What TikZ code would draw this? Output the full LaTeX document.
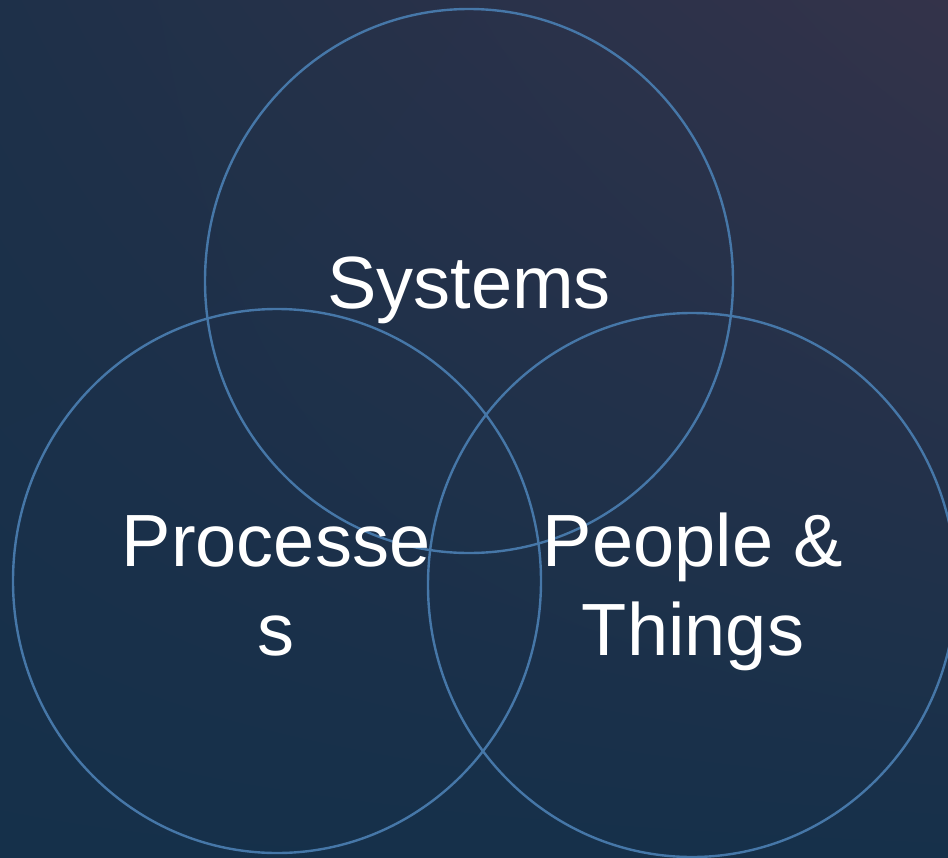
\documentclass[tikz,border=0pt]{standalone}
\usepackage{fontspec}
\setmainfont{Liberation Sans}
\usetikzlibrary{shadings,shapes.geometric}
\definecolor{bgUL}{HTML}{1E3049}
\definecolor{bgUR}{HTML}{34334A}
\definecolor{bgLL}{HTML}{15304A}
\definecolor{bgLR}{HTML}{16304A}
\definecolor{ringc}{HTML}{4677A8}
\begin{document}
\begin{tikzpicture}[x=1pt,y=-1pt,
  ring/.style={draw=ringc, line width=2.4pt, ellipse, minimum width=528pt, minimum height=544pt, inner sep=0pt},
  lbl/.style={text=white, font=\fontsize{74}{89}\selectfont, align=center, inner sep=0pt}]
\shade[upper left=bgUL, upper right=bgUR, lower left=bgLL, lower right=bgLR] (0,0) rectangle (948,857);
\useasboundingbox (0,0) rectangle (948,857);
\begin{scope}
\clip (0,0) rectangle (948,857);
\node[ring] (sys) at (469,281) {};
\node[ring] (proc) at (277,581) {};
\node[ring] (ppl) at (692,585) {};
\end{scope}
\node[lbl, anchor=base] (tsys) at (469,308) {Systems};
\node[lbl, anchor=base] (tproc) at (276,655) {Processe\\s};
\node[lbl, anchor=base] (tppl) at (693,655) {People \&\\Things};
\end{tikzpicture}
\end{document}
